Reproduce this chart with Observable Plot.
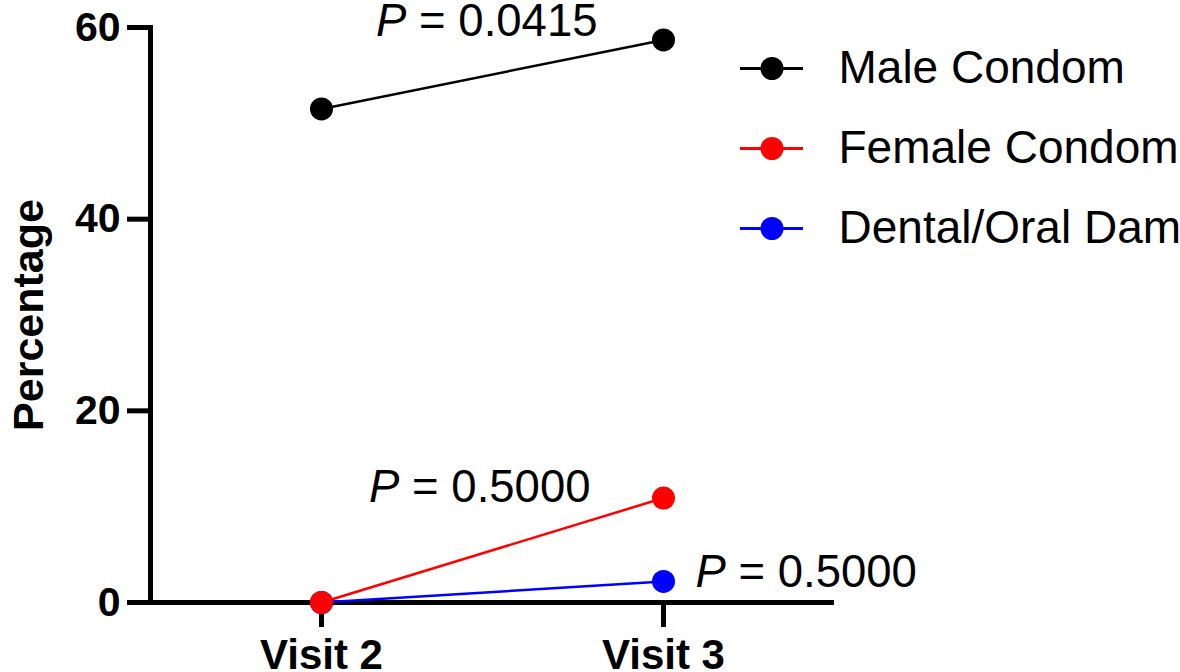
<!DOCTYPE html>
<html><head><meta charset="utf-8">
<script src="https://cdn.jsdelivr.net/npm/d3@7"></script>
<script src="https://cdn.jsdelivr.net/npm/@observablehq/plot@0.6"></script>
<style>
body{margin:0;background:#fff;}
#wrap{position:relative;width:1180px;height:672px;}
#legend{position:absolute;left:700px;top:0;}
</style></head><body><div id="wrap"></div>
<script>
const visits = ["Visit 2", "Visit 3"];
const series = ["Male Condom", "Female Condom", "Dental/Oral Dam"];
const colors = ["#000000", "#ff0000", "#0000ff"];
const maleValues = [51.5, 58.7];
const femaleValues = [0, 10.9];
const damValues = [0, 2.2];
const yTicks = [0, 20, 40, 60];
const pLabels = ["P = 0.0415", "P = 0.5000", "P = 0.5000"];
const yLabel = ["Percentage"];

const values = [maleValues, femaleValues, damValues];
const data = series.flatMap((s, i) => visits.map((v, j) => ({series: s, visit: v, value: values[i][j]})));
const drawOrder = ["Male Condom", "Dental/Oral Dam", "Female Condom"];
const dotData = drawOrder.flatMap(s => data.filter(d => d.series === s));
const last = series.map((s, i) => ({series: s, visit: visits[1], value: values[i][1], label: pLabels[i]}));

const font = "'Liberation Sans', Arial, Helvetica, sans-serif";

const chart = Plot.plot({
  width: 1180, height: 672,
  marginLeft: 150, marginRight: 346, marginTop: 27, marginBottom: 70,
  style: {fontFamily: font, background: "#fff", overflow: "visible", color: "#000"},
  x: {type: "point", domain: visits, padding: 0.5},
  y: {domain: [0, 60]},
  color: {domain: series, range: colors},
  marks: [
    Plot.axisY({ticks: yTicks, tickSize: 23, tickPadding: 7, strokeWidth: 5, fontSize: 41, fontWeight: "bold", label: null, tickFormat: d => String(d)}),
    Plot.axisX({tickSize: 25, tickPadding: 12, strokeWidth: 5, fontSize: 42, fontWeight: "bold", label: null}),
    Plot.frame({anchor: "left", strokeWidth: 5, strokeLinecap: "square"}),
    Plot.ruleY([0], {strokeWidth: 5}),
    Plot.text(yLabel, {frameAnchor: "left", text: d => d, rotate: -90, textAnchor: "middle", dx: -138, lineAnchor: "top", fontSize: 43, fontWeight: "bold"}),
    Plot.line(data, {x: "visit", y: "value", z: "series", stroke: "series", strokeWidth: 2.5}),
    Plot.dot(dotData, {x: "visit", y: "value", fill: "series", r: 11.5}),
    Plot.text(last.filter(d => d.series === "Male Condom"), {x: "visit", y: "value", text: "label", textAnchor: "end", lineAnchor: "bottom", dx: -66, dy: -4, fontSize: 45.5}),
    Plot.text(last.filter(d => d.series === "Female Condom"), {x: "visit", y: "value", text: "label", textAnchor: "end", lineAnchor: "bottom", dx: -73, dy: 4, fontSize: 45.5}),
    Plot.text(last.filter(d => d.series === "Dental/Oral Dam"), {x: "visit", y: "value", text: "label", textAnchor: "start", lineAnchor: "bottom", dx: 32, dy: 6, fontSize: 45.5})
  ]
});

chart.querySelectorAll("text").forEach(el => {
  const t = el.textContent;
  if (t.startsWith("P = ")) {
    el.textContent = "";
    const ts = document.createElementNS("http://www.w3.org/2000/svg", "tspan");
    ts.setAttribute("font-style", "italic");
    ts.textContent = "P";
    el.appendChild(ts);
    el.appendChild(document.createTextNode(t.slice(1)));
  }
});

const legend = Plot.plot({
  width: 480, height: 260, margin: 0,
  style: {fontFamily: font, background: "transparent", overflow: "visible", color: "#000"},
  x: {domain: [0, 100], range: [40, 103], axis: null},
  y: {type: "point", domain: series, range: [67, 228], padding: 0, axis: null},
  color: {domain: series, range: colors},
  marks: [
    Plot.ruleY(series, {y: d => d, x1: 0, x2: 100, stroke: d => d, strokeWidth: 3}),
    Plot.dot(series, {x: () => 50, y: d => d, fill: d => d, r: 11.5}),
    Plot.text(series, {x: () => 100, y: d => d, text: d => d, dx: 35, textAnchor: "start", fontSize: 46, fill: "#000"})
  ]
});
legend.id = "legend";

const wrap = document.getElementById("wrap");
wrap.appendChild(chart);
wrap.appendChild(legend);
</script>
</body></html>
